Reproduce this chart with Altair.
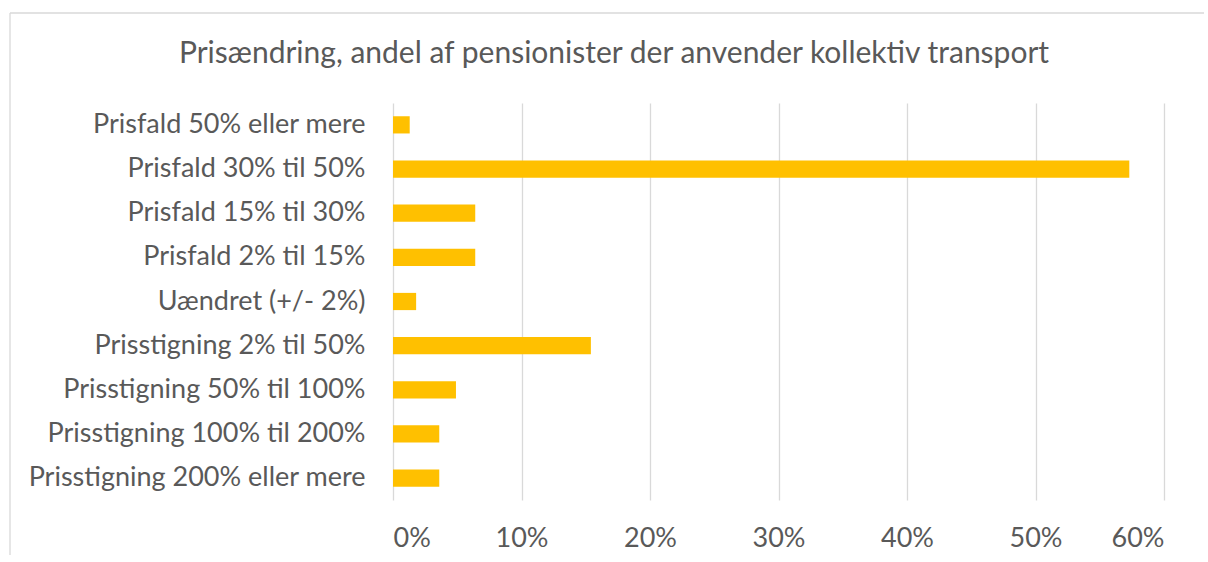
import altair as alt
import pandas as pd

categories = [
    "Prisfald 50% eller mere",
    "Prisfald 30% til 50%",
    "Prisfald 15% til 30%",
    "Prisfald 2% til 15%",
    "Uændret (+/- 2%)",
    "Prisstigning 2% til 50%",
    "Prisstigning 50% til 100%",
    "Prisstigning 100% til 200%",
    "Prisstigning 200% eller mere",
]
values = [0.013, 0.573, 0.064, 0.064, 0.018, 0.154, 0.049, 0.036, 0.036]
x_ticks = [0, 0.1, 0.2, 0.3, 0.4, 0.5, 0.6]
title_text = "Prisændring, andel af pensionister der anvender kollektiv transport"

df = pd.DataFrame({"kategori": categories, "andel": values})

FONT = "Lato"
GREY = "#595959"

bars = alt.Chart(df).mark_bar(color="#FFC000").encode(
    x=alt.X(
        "andel:Q",
        scale=alt.Scale(domain=[0, 0.6], nice=False),
        axis=alt.Axis(
            values=x_ticks,
            format=".0%",
            title=None,
            domain=False,
            ticks=False,
            grid=True,
            gridColor="#d9d9d9",
            gridWidth=1.3,
            labelFont=FONT,
            labelFontSize=27,
            labelColor=GREY,
            labelPadding=25,
        ),
    ),
    y=alt.Y(
        "kategori:N",
        sort=categories,
        scale=alt.Scale(paddingInner=0.61, paddingOuter=0.3),
        axis=alt.Axis(
            title=None,
            domain=False,
            ticks=False,
            grid=False,
            labelFont=FONT,
            labelFontSize=27,
            labelColor=GREY,
            labelPadding=28,
            labelLimit=500,
        ),
    ),
)

frame_df = pd.DataFrame({"k": [0]})
border = alt.Chart(frame_df).mark_rule(color="#d9d9d9", strokeWidth=1.3).encode(
    x=alt.value(-383), x2=alt.value(811), y=alt.value(-90)
)
border_left = alt.Chart(frame_df).mark_rule(color="#d9d9d9", strokeWidth=1.3).encode(
    x=alt.value(-383), y=alt.value(-90), y2=alt.value(452)
)
title = alt.Chart(pd.DataFrame({"t": [title_text]})).mark_text(
    font=FONT, fontSize=30, color=GREY, align="center", baseline="alphabetic"
).encode(text="t:N", x=alt.value(221), y=alt.value(-40))

chart = alt.layer(border, border_left, title, bars).properties(
    width=771,
    height=397,
    padding={"left": 393, "top": 103, "right": 40, "bottom": 55},
    autosize=alt.AutoSizeParams(type="none"),
).configure(background="white").configure_view(stroke=None, strokeWidth=0)

chart.save("out.html", embed_options={"renderer": "svg", "actions": False})
